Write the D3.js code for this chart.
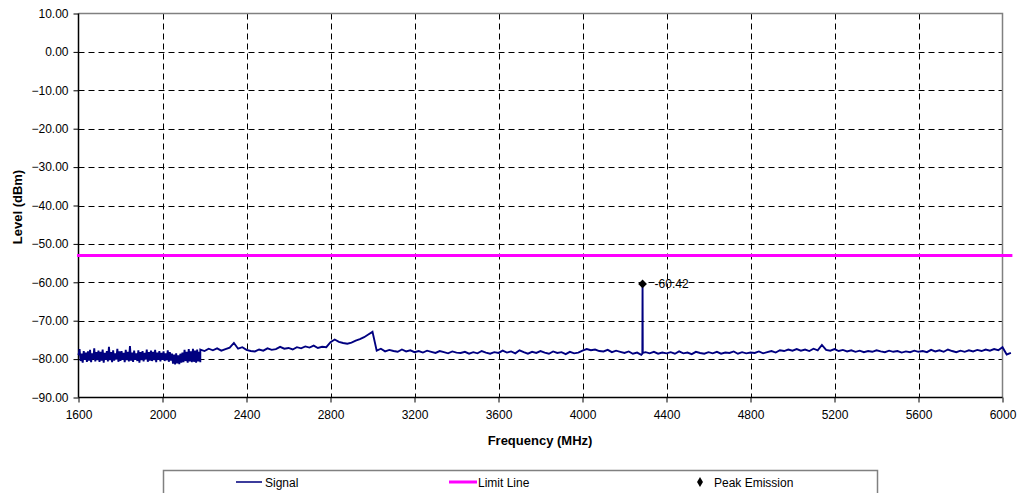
<!DOCTYPE html>
<html>
<head>
<meta charset="utf-8">
<script src="https://cdn.jsdelivr.net/npm/d3@7"></script>
<style>
  html, body { margin: 0; padding: 0; background: #fff; }
  svg { display: block; font-family: "Liberation Sans", Arial, sans-serif; }
</style>
</head>
<body>
<svg id="chart" width="1020" height="493"></svg>
<script>
// ---- Data ----
const xTicks = [1600, 2000, 2400, 2800, 3200, 3600, 4000, 4400, 4800, 5200, 5600, 6000];
const yTicks = [10, 0, -10, -20, -30, -40, -50, -60, -70, -80, -90];

// Dense noisy band, 1600-2180 MHz, 5 MHz step
const band1Start = 1600, band1Step = 5;
const band1Levels = [
  -79.0,-77.4,-80.5,-78.6,-80.9,-77.9,-80.2,-78.3,-80.7,-78.0,
  -80.4,-77.6,-80.8,-78.5,-80.1,-77.2,-80.6,-78.2,-80.3,-77.8,
  -80.7,-78.1,-80.4,-77.5,-80.9,-78.4,-80.2,-77.9,-80.6,-76.8,
  -80.3,-78.2,-80.8,-77.7,-80.4,-78.5,-80.1,-77.3,-80.7,-78.0,
  -80.5,-77.9,-80.2,-78.4,-80.8,-77.6,-80.3,-78.1,-80.6,-76.6,
  -80.4,-78.3,-80.7,-77.8,-80.2,-78.5,-80.5,-77.7,-80.9,-78.2,
  -80.3,-77.9,-80.6,-78.4,-80.1,-77.5,-80.7,-78.2,-80.4,-77.8,
  -80.5,-78.1,-80.3,-77.6,-80.8,-78.3,-80.2,-77.9,-80.6,-78.4,
  -80.2,-78.0,-80.5,-78.5,-80.3,-77.7,-80.7,-78.2,-80.4,-78.6,
  -81.2,-78.8,-81.4,-78.5,-81.1,-79.0,-81.3,-78.6,-80.9,-78.3,
  -80.8,-77.6,-80.5,-78.1,-80.9,-77.4,-80.6,-78.0,-80.8,-77.3,
  -80.7,-77.8,-80.9,-77.5,-80.6,-78.1,-80.8
];

// Remaining trace, 2180-6040 MHz, 20 MHz step
const band2Start = 2180, band2Step = 20;
const band2Levels = [
  -77.5,-77.9,-77.3,-77.7,-77.2,-77.8,-77.4,-77.0,-75.8,-77.3,
  -76.9,-77.6,-77.9,-78.0,-77.5,-77.8,-77.2,-77.6,-77.4,-76.8,
  -77.3,-77.1,-77.5,-76.9,-77.2,-76.7,-77.0,-76.5,-77.1,-76.8,
  -76.9,-75.6,-74.9,-75.5,-75.8,-76.0,-75.7,-75.2,-74.8,-74.3,
  -73.6,-72.9,
  -77.8,-77.3,-78.0,-77.6,-77.9,-78.1,-77.5,-78.0,-77.7,-78.2,
  -77.9,-78.3,-77.8,-78.1,-78.4,-77.9,-78.2,-78.5,-78.0,-78.3,
  -78.4,-78.1,-78.6,-78.2,-78.5,-77.9,-78.3,-78.6,-78.2,-78.4,
  -77.8,-78.3,-78.0,-78.5,-77.7,-78.2,-78.6,-78.1,-78.4,-77.9,
  -78.3,-78.6,-78.0,-78.4,-78.2,-78.7,-78.1,-78.5,-78.3,-77.8,
  -77.4,-77.7,-77.5,-77.9,-78.0,-77.6,-78.2,-77.8,-78.1,-78.4,
  -78.0,-78.6,-78.3,-78.9,-78.2,-78.5,-78.1,-78.6,-78.3,-78.5,
  -78.2,-78.6,-78.0,-78.5,-78.3,-78.7,-78.1,-78.4,-78.6,-78.2,
  -78.5,-78.1,-78.6,-78.3,-78.4,-78.0,-78.6,-78.2,-78.5,-78.3,
  -78.4,-78.0,-78.5,-78.2,-77.9,-78.3,-77.7,-77.9,-77.5,-77.8,
  -77.4,-77.8,-77.5,-77.9,-77.3,-77.7,-76.3,-77.6,-77.8,-77.4,
  -77.9,-77.6,-78.0,-77.7,-78.1,-77.8,-78.2,-77.9,-78.1,-77.7,
  -78.0,-78.2,-77.8,-78.1,-77.9,-78.3,-78.0,-78.2,-77.8,-78.1,
  -77.9,-78.2,-77.6,-78.0,-77.7,-78.1,-77.5,-77.9,-78.2,-77.8,
  -78.1,-77.7,-78.0,-77.6,-77.9,-77.5,-77.8,-77.4,-77.7,-76.9,
  -78.8,-78.4
];

const peakFreq = 4286;
const peakLevel = -60.42;

const limitFreqs = [1600, 6040];
const limitLevels = [-53, -53];

const legendLabels = ["Signal", "Limit Line", "Peak Emission"];

// ---- Build series ----
const signal = [];
band1Levels.forEach((v, i) => signal.push({ f: band1Start + i * band1Step, v }));
band2Levels.forEach((v, i) => signal.push({ f: band2Start + i * band2Step, v }));
signal.push({ f: peakFreq - 1, v: -78.6 });
signal.push({ f: peakFreq, v: peakLevel });
signal.push({ f: peakFreq + 1, v: -78.4 });
signal.sort((a, b) => a.f - b.f);

// ---- Layout ----
const pLeft = 78.5, pRight = 1002.5, pTop = 13.5, pBottom = 397.5;
const svg = d3.select("#chart");

const x = d3.scaleLinear().domain([1600, 6000]).range([pLeft, pRight]);
const y = d3.scaleLinear().domain([-90, 10]).range([pBottom, pTop]);

// Grid
const grid = svg.append("g");
grid.selectAll("line.h").data(yTicks.filter(t => t !== 10 && t !== -90)).enter()
  .append("line")
  .attr("x1", pLeft).attr("x2", pRight)
  .attr("y1", d => Math.round(y(d)) + 0.5).attr("y2", d => Math.round(y(d)) + 0.5)
  .attr("stroke", "#000").attr("stroke-width", 1).attr("stroke-dasharray", "6,4");
grid.selectAll("line.v").data(xTicks.filter(t => t !== 1600 && t !== 6000)).enter()
  .append("line")
  .attr("x1", d => Math.round(x(d)) + 0.5).attr("x2", d => Math.round(x(d)) + 0.5)
  .attr("y1", pTop).attr("y2", pBottom)
  .attr("stroke", "#000").attr("stroke-width", 1).attr("stroke-dasharray", "6,4");

// Plot border (top/right gray)
svg.append("path")
  .attr("d", `M${pLeft},${pTop}H${pRight}V${pBottom}`)
  .attr("fill", "none").attr("stroke", "#808080").attr("stroke-width", 1.5);

// Axes
const yAxis = d3.axisLeft(y).tickValues(yTicks).tickSize(5).tickPadding(5)
  .tickFormat(d3.format(".2f"));
const gy = svg.append("g").attr("transform", `translate(${pLeft},0)`).call(yAxis);
const xAxis = d3.axisBottom(x).tickValues(xTicks).tickSize(5).tickPadding(8)
  .tickFormat(d3.format("d"));
const gx = svg.append("g").attr("transform", `translate(0,${pBottom})`).call(xAxis);
[gx, gy].forEach(g => {
  g.select(".domain").attr("stroke", "#000").attr("stroke-width", 1.5);
  g.selectAll(".tick line").attr("stroke", "#000");
  g.selectAll("text").attr("font-size", 12).attr("fill", "#000")
    .attr("font-family", "'Liberation Sans', Arial, sans-serif");
});
gx.select(".domain").attr("d", `M${pLeft},0H${pRight}`);
gy.select(".domain").attr("d", `M0,${pTop}V${pBottom}`);

// Axis titles
svg.append("text").attr("x", 540).attr("y", 445)
  .attr("text-anchor", "middle").attr("font-size", 13).attr("font-weight", "bold")
  .text("Frequency (MHz)");
svg.append("text").attr("transform", `translate(21.5,207) rotate(-90)`)
  .attr("text-anchor", "middle").attr("font-size", 13).attr("font-weight", "bold")
  .text("Level (dBm)");

// Limit line
const line = d3.line().x(d => x(d.f)).y(d => y(d.v));
svg.append("path")
  .datum(limitFreqs.map((f, i) => ({ f, v: limitLevels[i] })))
  .attr("d", line).attr("fill", "none").attr("stroke", "#FF00FF")
  .attr("stroke-width", 3).attr("stroke-linecap", "square");

// Signal
svg.append("path").datum(signal).attr("d", line)
  .attr("fill", "none").attr("stroke", "#000080").attr("stroke-width", 1.9)
  .attr("stroke-linejoin", "miter");

// Peak marker
const sym = d3.symbol().type(d3.symbolSquare).size(38);
svg.append("path").attr("d", sym)
  .attr("transform", `translate(${x(peakFreq)},${y(peakLevel)}) rotate(45)`)
  .attr("fill", "#000");
svg.append("text").attr("x", x(peakFreq) + 12).attr("y", y(peakLevel) + 4.5)
  .attr("font-size", 12).attr("fill", "#000").text(peakLevel.toFixed(2));

// Legend
const lg = svg.append("g");
lg.append("rect").attr("x", 163.5).attr("y", 470.5).attr("width", 714).attr("height", 40)
  .attr("fill", "#fff").attr("stroke", "#808080").attr("stroke-width", 1.5);
const ly = 482;
lg.append("line").attr("x1", 236).attr("x2", 262).attr("y1", ly).attr("y2", ly)
  .attr("stroke", "#3c3c9c").attr("stroke-width", 2);
lg.append("text").attr("x", 265).attr("y", ly + 4.5).attr("font-size", 12).text(legendLabels[0]);
lg.append("line").attr("x1", 449).attr("x2", 477).attr("y1", ly).attr("y2", ly)
  .attr("stroke", "#FF00FF").attr("stroke-width", 3);
lg.append("text").attr("x", 478).attr("y", ly + 4.5).attr("font-size", 12).text(legendLabels[1]);
lg.append("path").attr("d", d3.symbol().type(d3.symbolDiamond).size(30))
  .attr("transform", `translate(700,${ly})`).attr("fill", "#000");
lg.append("text").attr("x", 714).attr("y", ly + 4.5).attr("font-size", 12).text(legendLabels[2]);
</script>
</body>
</html>
